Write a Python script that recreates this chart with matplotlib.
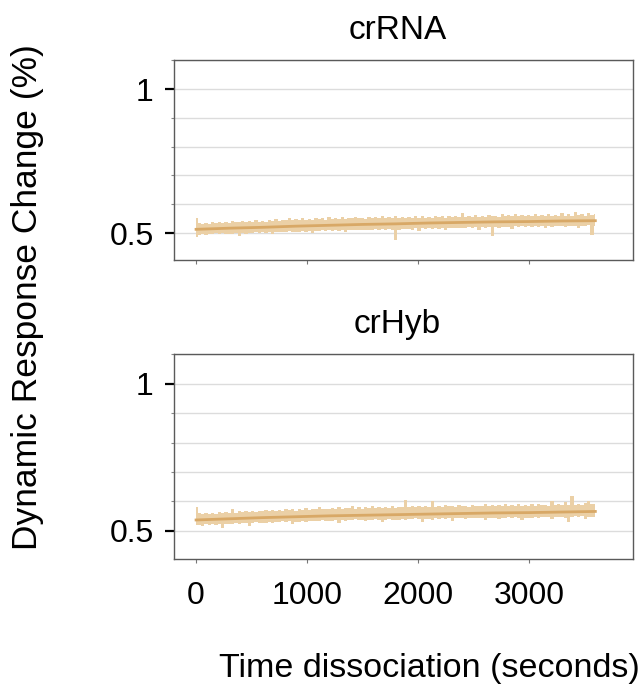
import numpy as np
import matplotlib.pyplot as plt
from matplotlib.ticker import MultipleLocator

plt.rcParams['font.family'] = ['Liberation Sans', 'DejaVu Sans']

# time points of the raw trace (s)
time_s = np.arange(0, 3601, 30)

# crRNA: upper / lower edge of the raw trace
crrna_upper = [
    0.552, 0.534, 0.531, 0.536, 0.533, 0.537, 0.534, 0.538, 0.535, 0.539,
    0.536, 0.541, 0.537, 0.540, 0.543, 0.538, 0.542, 0.539, 0.545, 0.540,
    0.543, 0.540, 0.546, 0.542, 0.549, 0.543, 0.547, 0.544, 0.551, 0.545,
    0.548, 0.544, 0.553, 0.546, 0.550, 0.547, 0.554, 0.548, 0.551, 0.547,
    0.555, 0.549, 0.553, 0.548, 0.556, 0.550, 0.554, 0.551, 0.557, 0.551,
    0.554, 0.550, 0.557, 0.552, 0.555, 0.551, 0.558, 0.553, 0.556, 0.552,
    0.559, 0.554, 0.557, 0.553, 0.556, 0.553, 0.559, 0.554, 0.558, 0.553,
    0.557, 0.554, 0.560, 0.555, 0.558, 0.554, 0.561, 0.555, 0.559, 0.556,
    0.569, 0.556, 0.560, 0.555, 0.562, 0.557, 0.560, 0.556, 0.564, 0.558,
    0.561, 0.557, 0.565, 0.558, 0.562, 0.559, 0.566, 0.558, 0.563, 0.559,
    0.564, 0.559, 0.567, 0.560, 0.563, 0.559, 0.566, 0.561, 0.564, 0.560,
    0.568, 0.561, 0.565, 0.560, 0.574, 0.562, 0.566, 0.561, 0.569, 0.563,
    0.567]
crrna_lower = [
    0.486, 0.494, 0.497, 0.495, 0.498, 0.496, 0.499, 0.497, 0.500, 0.498,
    0.498, 0.496, 0.499, 0.490, 0.500, 0.498, 0.501, 0.499, 0.502, 0.500,
    0.502, 0.500, 0.503, 0.496, 0.504, 0.502, 0.505, 0.503, 0.506, 0.504,
    0.505, 0.503, 0.507, 0.505, 0.508, 0.501, 0.508, 0.506, 0.509, 0.507,
    0.509, 0.507, 0.510, 0.508, 0.511, 0.504, 0.511, 0.509, 0.512, 0.510,
    0.511, 0.509, 0.512, 0.510, 0.513, 0.511, 0.513, 0.511, 0.514, 0.511,
    0.477, 0.512, 0.515, 0.513, 0.515, 0.512, 0.516, 0.506, 0.516, 0.514,
    0.516, 0.514, 0.517, 0.515, 0.518, 0.509, 0.518, 0.516, 0.519, 0.516,
    0.519, 0.517, 0.520, 0.518, 0.520, 0.512, 0.520, 0.518, 0.521, 0.490,
    0.521, 0.519, 0.522, 0.520, 0.522, 0.514, 0.523, 0.520, 0.523, 0.521,
    0.523, 0.521, 0.524, 0.522, 0.524, 0.516, 0.525, 0.522, 0.525, 0.523,
    0.525, 0.522, 0.526, 0.524, 0.526, 0.518, 0.526, 0.524, 0.527, 0.492,
    0.524]

# crHyb: upper / lower edge of the raw trace
crhyb_upper = [
    0.582, 0.560, 0.556, 0.561, 0.558, 0.562, 0.559, 0.563, 0.560, 0.564,
    0.561, 0.574, 0.562, 0.566, 0.563, 0.568, 0.564, 0.567, 0.565, 0.569,
    0.566, 0.570, 0.567, 0.572, 0.568, 0.571, 0.569, 0.576, 0.570, 0.573,
    0.569, 0.574, 0.571, 0.578, 0.572, 0.575, 0.573, 0.580, 0.574, 0.576,
    0.573, 0.578, 0.575, 0.581, 0.576, 0.579, 0.577, 0.583, 0.576, 0.580,
    0.576, 0.581, 0.578, 0.584, 0.577, 0.580, 0.578, 0.582, 0.579, 0.585,
    0.579, 0.582, 0.580, 0.605, 0.581, 0.584, 0.580, 0.586, 0.582, 0.583,
    0.580, 0.603, 0.582, 0.585, 0.581, 0.587, 0.583, 0.585, 0.582, 0.588,
    0.583, 0.586, 0.582, 0.589, 0.584, 0.586, 0.583, 0.590, 0.585, 0.587,
    0.584, 0.588, 0.585, 0.591, 0.586, 0.588, 0.584, 0.592, 0.586, 0.589,
    0.585, 0.590, 0.586, 0.592, 0.587, 0.589, 0.586, 0.600, 0.588, 0.591,
    0.587, 0.598, 0.589, 0.618, 0.588, 0.593, 0.589, 0.595, 0.603, 0.591,
    0.590]
crhyb_lower = [
    0.520, 0.521, 0.518, 0.522, 0.520, 0.523, 0.521, 0.524, 0.510, 0.523,
    0.524, 0.522, 0.526, 0.524, 0.527, 0.525, 0.515, 0.526, 0.529, 0.527,
    0.528, 0.526, 0.530, 0.528, 0.531, 0.529, 0.532, 0.530, 0.533, 0.522,
    0.531, 0.529, 0.533, 0.531, 0.534, 0.532, 0.535, 0.533, 0.536, 0.534,
    0.534, 0.532, 0.536, 0.526, 0.537, 0.535, 0.538, 0.536, 0.539, 0.537,
    0.536, 0.534, 0.538, 0.536, 0.539, 0.537, 0.530, 0.538, 0.540, 0.538,
    0.538, 0.536, 0.540, 0.538, 0.541, 0.539, 0.542, 0.540, 0.531, 0.541,
    0.540, 0.538, 0.542, 0.540, 0.543, 0.541, 0.544, 0.534, 0.543, 0.542,
    0.542, 0.540, 0.544, 0.542, 0.545, 0.543, 0.545, 0.536, 0.544, 0.543,
    0.543, 0.541, 0.545, 0.543, 0.546, 0.544, 0.547, 0.545, 0.538, 0.545,
    0.545, 0.543, 0.547, 0.545, 0.548, 0.546, 0.548, 0.540, 0.547, 0.546,
    0.546, 0.544, 0.530, 0.546, 0.549, 0.547, 0.549, 0.541, 0.548, 0.547,
    0.547]

# smoothed fit lines
fit_t = [0, 300, 600, 900, 1200, 1500, 1800, 2100, 2400, 2700, 3000, 3300, 3600]
crrna_fit = [0.513, 0.517, 0.520, 0.524, 0.527, 0.530, 0.532, 0.535, 0.537, 0.539, 0.540, 0.542, 0.543]
crhyb_fit = [0.537, 0.541, 0.545, 0.548, 0.551, 0.553, 0.555, 0.557, 0.559, 0.561, 0.562, 0.564, 0.566]

band_col = '#ebd0a6'
line_col = '#d8a866'

fig = plt.figure(figsize=(6.44, 6.89), dpi=100)
ax1 = fig.add_axes([0.270, 0.622, 0.713, 0.291])
ax2 = fig.add_axes([0.270, 0.189, 0.713, 0.297])

panels = [(ax1, 'crRNA', crrna_upper, crrna_lower, crrna_fit),
          (ax2, 'crHyb', crhyb_upper, crhyb_lower, crhyb_fit)]

for ax, title, up, lo, fit in panels:
    ax.fill_between(time_s, lo, up, step='mid', color=band_col, lw=0)
    ax.plot(fit_t, fit, color=line_col, lw=2)
    ax.set_xlim(-200, 3940)
    ax.set_ylim(0.405, 1.101)
    ax.set_xticks([0, 1000, 2000, 3000])
    ax.set_yticks([0.5, 1.0])
    ax.set_yticklabels(['0.5', '1'])
    ax.yaxis.set_minor_locator(MultipleLocator(0.1))
    ax.grid(axis='y', which='both', color='#dcdcdc', lw=1)
    ax.set_axisbelow(True)
    for s in ax.spines.values():
        s.set_color('#5a5a5a')
        s.set_linewidth(1)
    ax.tick_params(axis='y', which='major', length=6.5, width=1.6,
                   color='black', labelsize=23, pad=8)
    ax.tick_params(axis='y', which='minor', length=2, width=0.8, color='#888888')
    ax.tick_params(axis='x', length=3, width=0.8, color='#777777',
                   labelsize=23, pad=13)
    ax.set_title(title, fontsize=24, pad=15, x=0.487)

ax1.tick_params(axis='x', labelbottom=False)

fig.text(0.666, 0.030, 'Time dissociation (seconds)', fontsize=24.5,
         ha='center', va='center')
fig.text(0.042, 0.569, 'Dynamic Response Change (%)', fontsize=25.5,
         ha='center', va='center', rotation=90)

fig.savefig('out.png', dpi=100)
